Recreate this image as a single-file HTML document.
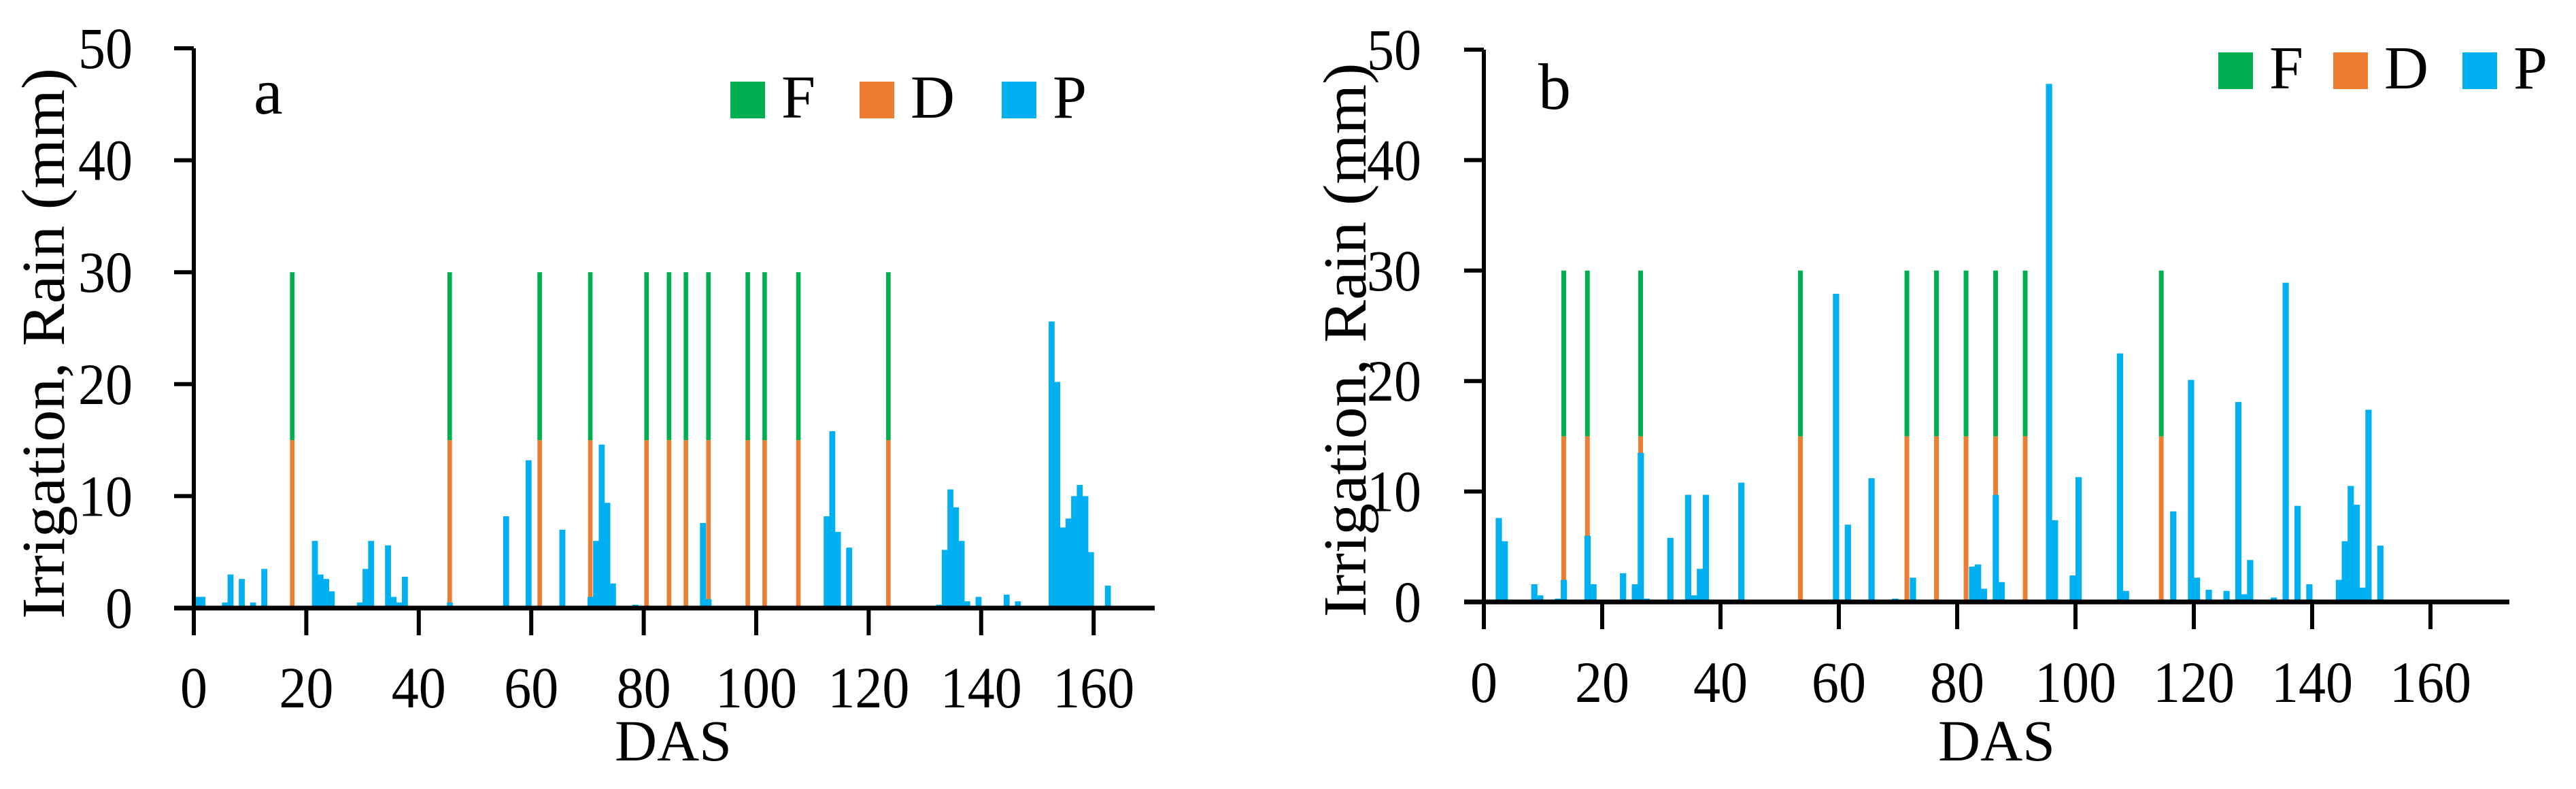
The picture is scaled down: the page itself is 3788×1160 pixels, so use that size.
<!DOCTYPE html>
<html><head><meta charset="utf-8"><style>
html,body{margin:0;padding:0;background:#fff;}
svg{display:block;font-family:"Liberation Serif",serif;}
</style></head><body>
<svg id="chart" width="3788" height="1160" viewBox="0 0 3788 1160" xmlns="http://www.w3.org/2000/svg"></svg>
<script>
// Panel a data
const irrDaysA = [17,45,61,70,80,84,87,91,98,101,107,123];
const rainDaysA = [0,1,5,6,8,10,12,21,22,23,24,29,30,31,34,35,36,37,45,55,59,65,70,71,72,73,74,78,90,91,112,113,114,116,132,133,134,135,136,137,139,144,146,152,153,154,155,156,157,158,159,162];
const rainValsA = [1,1,0.5,3,2.6,0.5,3.5,6,3,2.6,1.5,0.5,3.5,6,5.6,1,0.5,2.8,0.5,8.2,13.2,7,1,6,14.6,9.4,2.2,0.3,7.6,0.8,8.2,15.8,6.8,5.4,0.3,5.2,10.6,9,6,0.6,1,1.2,0.6,25.6,20.2,7.2,8,10,11,10,5,2];
// Panel b data
const irrDaysB = [13,17,26,53,71,76,81,86,91,114];
const rainDaysB = [2,3,8,9,12,13,17,18,23,25,26,27,31,34,35,36,37,43,59,61,65,69,72,82,83,84,86,87,95,96,99,100,107,108,116,119,120,122,125,127,128,129,133,135,137,139,143,144,145,146,147,148,149,151,164,169];
const rainValsB = [7.6,5.5,1.6,0.6,0.3,2,6,1.6,2.6,1.6,13.5,0.3,5.8,9.7,0.6,3,9.7,10.8,27.9,7,11.2,0.3,2.2,3.2,3.4,1.2,9.7,1.8,46.9,7.4,2.4,11.3,22.5,1,8.2,20.1,2.2,1.1,1,18.1,0.7,3.8,0.4,28.9,8.7,1.6,0.1,2,5.5,10.5,8.8,1.3,17.4,5.1,0.1,0.1];
const irrD = 15, irrF = 15;
const yTicks = [0,10,20,30,40,50];
const xTicks = [0,20,40,60,80,100,120,140,160];

const svg = document.getElementById('chart');
const NS = 'http://www.w3.org/2000/svg';
function mk(tag, attrs, parent){const e=document.createElementNS(NS,tag);for(const k in attrs)e.setAttribute(k,attrs[k]);(parent||svg).appendChild(e);return e;}

function panel(cfg){
  const g = mk('g',{});
  
  
  const xs = d => cfg.x0 + d*cfg.px;
  const ys = v => cfg.y0 - v*(cfg.y0-cfg.y50)/50;
  const w = cfg.px;
  cfg.irr.forEach(d=>{
    const x = xs(d)+w*0.1, bw = w*0.8;
    const r1 = mk('rect',{x:x,y:ys(irrD),width:bw,height:ys(0)-ys(irrD),fill:'#ED7D31'},g);
    
    
    const r2 = mk('rect',{x:x,y:ys(irrD+irrF),width:bw,height:ys(irrD)-ys(irrD+irrF),fill:'#00AF50'},g);
    
    
  });
  cfg.rd.forEach((d,i)=>{
    const r = mk('rect',{x:xs(d),y:ys(cfg.rv[i]),width:w+0.5,height:ys(0)-ys(cfg.rv[i]),fill:'#00B0F0'},g);
    
    
  });
  const ya = mk('line',{x1:cfg.x0,y1:cfg.y50,x2:cfg.x0,y2:cfg.tb,stroke:'#000','stroke-width':6},g);
  
  
  const xa = mk('line',{x1:cfg.xl,y1:cfg.y0,x2:cfg.xr,y2:cfg.y0,stroke:'#000','stroke-width':7},g);
  
  
  yTicks.forEach(v=>{
    mk('line',{x1:cfg.xl,y1:ys(v),x2:cfg.x0,y2:ys(v),stroke:'#000','stroke-width':6},g);
    const t = mk('text',{x:cfg.ylx,y:ys(v)+29,'font-size':86,'text-anchor':'end',textLength:String(v).length*40,lengthAdjust:'spacingAndGlyphs'},g);
    t.textContent = v;
    
    
  });
  xTicks.forEach(v=>{
    if(v>0) mk('line',{x1:xs(v),y1:cfg.y0,x2:xs(v),y2:cfg.tb,stroke:'#000','stroke-width':6},g);
    const n=String(v).length;
    const t = mk('text',{x:xs(v)-n*20,y:cfg.xlb,'font-size':86,textLength:n*40,lengthAdjust:'spacingAndGlyphs'},g);
    t.textContent = v;
    
    
  });
  const das = mk('text',{x:cfg.dasx-86,y:1118,'font-size':86,textLength:172,lengthAdjust:'spacingAndGlyphs'},g);
  das.textContent='DAS';
  
  
  const yt = mk('text',{x:0,y:0,'font-size':90,textLength:cfg.ytl,lengthAdjust:'spacingAndGlyphs',transform:`translate(${cfg.ytx},${cfg.ytc+cfg.ytl/2}) rotate(-90)`},g);
  yt.textContent=cfg.ytitle;
  
  yt.setAttribute('xml:space','preserve');
  
  const pl = mk('text',{x:cfg.lx,y:cfg.ly,'font-size':96},g);
  pl.textContent=cfg.label;
  
  
  const cols=['#00AF50','#ED7D31','#00B0F0'], labs=['F','D','P'];
  cfg.leg.forEach((lx,i)=>{
    const s = mk('rect',{x:lx,y:cfg.legy,width:51,height:54,fill:cols[i]},g);
    
    
    const t = mk('text',{x:lx+75,y:cfg.legy+53,'font-size':90},g);
    t.textContent=labs[i];
    
    
  });
}

panel({name:'panel-a',x0:285,px:8.27,y0:894,y50:71,xl:256,xr:1698,tb:934,ylx:195,xlb:1040,dasx:990,
  ytx:94,ytc:505,ytl:810,ytitle:'Irrigation, Rain (mm)',label:'a',lx:373,ly:167,
  leg:[1074,1264,1473],legy:120,irr:irrDaysA,rd:rainDaysA,rv:rainValsA});
panel({name:'panel-b',x0:2182,px:8.70,y0:885,y50:73,xl:2153,xr:3690,tb:925,ylx:2090,xlb:1032,dasx:2936,
  ytx:2008,ytc:500,ytl:815,ytitle:'Irrigation,  Rain (mm)',label:'b',lx:2262,ly:160,
  leg:[3262,3431,3621],legy:77,irr:irrDaysB,rd:rainDaysB,rv:rainValsB});
</script>
</body></html>
